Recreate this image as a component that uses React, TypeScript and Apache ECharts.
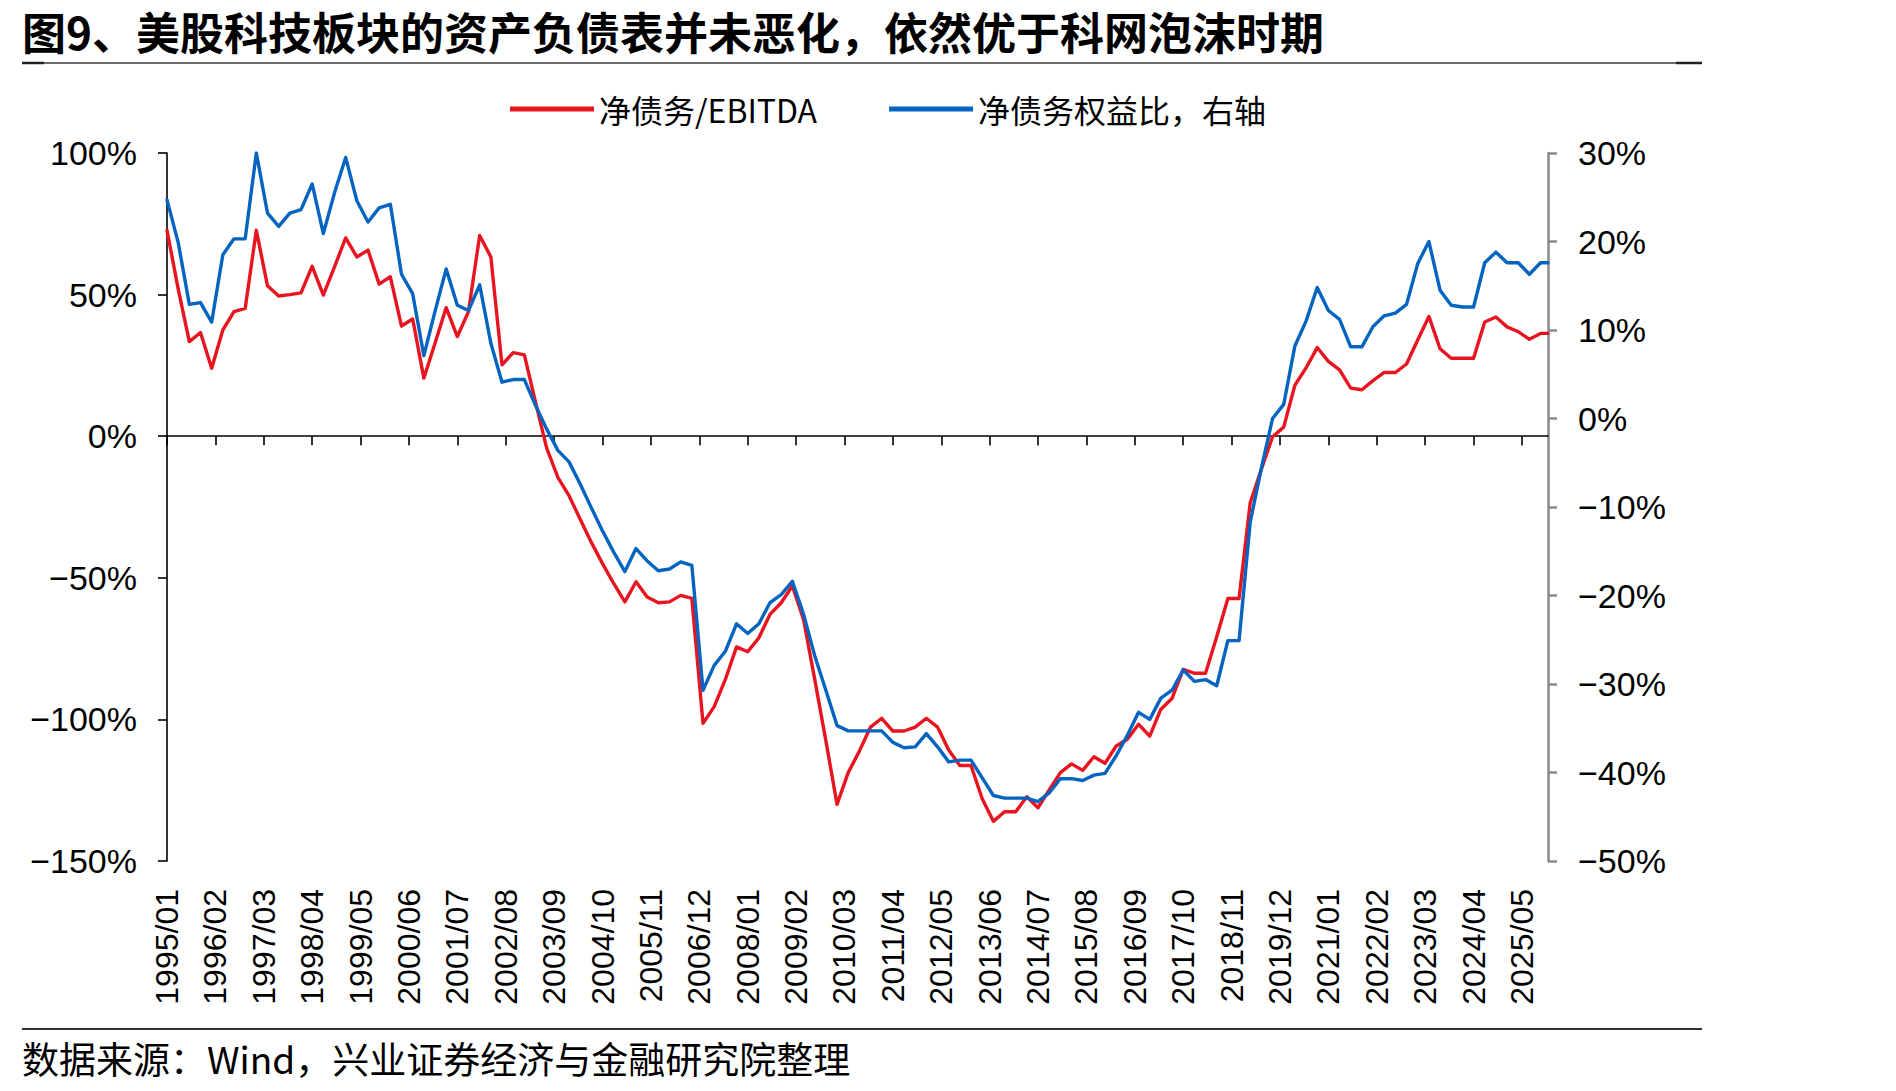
import React, { useEffect, useRef } from 'react';
import * as echarts from 'echarts';

const TITLE = '图9、美股科技板块的资产负债表并未恶化，依然优于科网泡沫时期';
const SOURCE = '数据来源：Wind，兴业证券经济与金融研究院整理';
const SERIES_NAMES = ['净债务/EBITDA', '净债务权益比，右轴'];

// monthly category axis 1995/01 .. 2025/12
const FIRST_YEAR = 1995;
const LAST_YEAR = 2025;
const monthLabels: string[] = [];
for (let y = FIRST_YEAR; y <= LAST_YEAR; y++) {
  for (let m = 1; m <= 12; m++) monthLabels.push(`${y}/${String(m).padStart(2, '0')}`);
}

// observation dates: quarterly 1995/01 .. 2025/10, plus latest 2025/12
const pointDates: string[] = [];
for (let i = 0; i <= 369; i += 3) pointDates.push(monthLabels[i]);
pointDates.push('2025/12');

// 净债务/EBITDA (%), left axis
const netDebtToEbitda = [
  72.7, 52, 33.4, 36.6, 24, 37.5, 44, 45.1, 72.7, 53.1,
  49.5, 50, 50.6, 60, 49.8, 59.8, 70, 63.3, 65.7, 53.7,
  56.3, 38.9, 41.4, 20.5, 32.8, 45.4, 35.2, 44, 70.9, 63.3,
  25.2, 29.5, 28.7, 12, -4.2, -14.5, -21, -29.3, -37.5, -45,
  -52, -58.5, -51.4, -56.8, -58.8, -58.5, -56.2, -57.3, -101.4, -95.5,
  -85.9, -74.4, -76.1, -71.2, -62.9, -58.8, -52.9, -64.7, -85.8, -107.5,
  -130, -118.8, -111.2, -102.7, -99.6, -104.1, -104.1, -102.7, -99.6, -102.7,
  -110.8, -116.3, -116.3, -128, -136, -132.6, -132.6, -127.3, -131.2, -124.9,
  -118.8, -115.7, -118, -113.2, -115.5, -109.4, -107, -101.7, -105.9, -96.4,
  -92.6, -82.3, -83.7, -83.7, -70.8, -57.3, -57.3, -23.5, -11.7, -0.2,
  3.2, 18, 24.1, 31.3, 26.4, 23.4, 17, 16.4, 19.6, 22.5,
  22.5, 25.5, 34, 42.3, 30.9, 27.5, 27.5, 27.5, 40.3, 42.1,
  38.6, 36.9, 34.2, 36.3, 36.3,
];

// 净债务权益比 (%), right axis
const netDebtToEquity = [
  24.7, 19.9, 12.9, 13.1, 10.9, 18.5, 20.3, 20.3, 30, 23.2,
  21.7, 23.2, 23.6, 26.5, 20.9, 25.5, 29.5, 24.6, 22.2, 23.8,
  24.2, 16.3, 14.1, 7.1, 12.1, 16.9, 12.8, 12.2, 15.1, 8.5,
  4.1, 4.4, 4.4, 1.5, -1.2, -3.6, -4.9, -7.4, -10.1, -12.7,
  -15.1, -17.3, -14.7, -16.1, -17.2, -17.0, -16.2, -16.6, -30.7, -27.9,
  -26.3, -23.2, -24.3, -23.2, -20.8, -19.9, -18.4, -22.1, -26.8, -30.7,
  -34.7, -35.3, -35.3, -35.3, -35.3, -36.6, -37.2, -37.1, -35.6, -37.1,
  -38.8, -38.6, -38.6, -40.6, -42.6, -42.9, -42.9, -42.9, -43.3, -42.3,
  -40.7, -40.7, -40.9, -40.3, -40.1, -38.1, -35.8, -33.2, -34.0, -31.6,
  -30.7, -28.4, -29.7, -29.5, -30.2, -25.1, -25.1, -11.7, -5.6, 0,
  1.6, 8.2, 11.0, 14.8, 12.2, 11.2, 8.1, 8.1, 10.4, 11.6,
  11.9, 12.9, 17.5, 20.0, 14.5, 12.8, 12.6, 12.6, 17.6, 18.8,
  17.6, 17.6, 16.3, 17.6, 17.6,
];

const LEFT_AXIS = { min: -150, max: 100, interval: 50 };
const RIGHT_AXIS = { min: -50, max: 30, interval: 10 };
const LABEL_EVERY = 13; // months between x labels

const RED = '#E8141F';
const BLUE = '#0564C0';
const FONT = '"Liberation Sans", "Noto Sans CJK SC", sans-serif';
const CJK = '"Noto Sans CJK SC", "Liberation Sans", sans-serif';

const toMonthly = (vals: number[]) => {
  const map = new Map<string, number>();
  pointDates.forEach((d, i) => map.set(d, vals[i]));
  return monthLabels.map((l) => (map.has(l) ? (map.get(l) as number) : null));
};

const pct = (v: number) => (v < 0 ? '\u2212' + Math.abs(v) : String(v)) + '%';

export default function App() {
  const ref = useRef<HTMLDivElement>(null);
  useEffect(() => {
    if (!ref.current) return;
    const chart = echarts.init(ref.current, undefined, { renderer: 'svg' });
    const option: any = {
      animation: false,
      backgroundColor: '#fff',
      textStyle: { fontFamily: FONT },
      grid: { left: 167, top: 153, width: 1381, height: 708, containLabel: false },
      legend: {
        left: 505,
        top: 88,
        icon: 'rect',
        itemWidth: 84,
        itemHeight: 5,
        itemGap: 72,
        data: SERIES_NAMES,
        textStyle: { fontSize: 32, color: '#000', fontFamily: CJK },
      },
      xAxis: [
        {
          type: 'category',
          data: monthLabels,
          boundaryGap: false,
          position: 'bottom',
          axisLine: { onZero: true, lineStyle: { color: '#000', width: 1.6 } },
          axisTick: { show: true, interval: LABEL_EVERY - 1, length: 9, lineStyle: { color: '#000', width: 1.6 } },
          axisLabel: { show: false },
          splitLine: { show: false },
        },
        {
          type: 'category',
          data: monthLabels,
          boundaryGap: false,
          position: 'bottom',
          axisLine: { show: false, onZero: false },
          axisTick: { show: false },
          axisLabel: {
            show: true,
            interval: LABEL_EVERY - 1,
            rotate: 90,
            margin: 28,
            fontSize: 32,
            color: '#000',
            fontFamily: FONT,
          },
          splitLine: { show: false },
        },
      ],
      yAxis: [
        {
          type: 'value',
          position: 'left',
          min: LEFT_AXIS.min,
          max: LEFT_AXIS.max,
          interval: LEFT_AXIS.interval,
          axisLine: { show: true, lineStyle: { color: '#000', width: 1.6 } },
          axisTick: { show: true, length: 9, lineStyle: { color: '#000', width: 1.6 } },
          axisLabel: { margin: 30, fontSize: 34, color: '#000', fontFamily: FONT, formatter: pct },
          splitLine: { show: false },
        },
        {
          type: 'value',
          position: 'right',
          min: RIGHT_AXIS.min,
          max: RIGHT_AXIS.max,
          interval: RIGHT_AXIS.interval,
          axisLine: { show: true, lineStyle: { color: '#8a8a8a', width: 2.5 } },
          axisTick: { show: true, length: 9, lineStyle: { color: '#8a8a8a', width: 2.5 } },
          axisLabel: { margin: 30, fontSize: 34, color: '#000', fontFamily: FONT, formatter: pct },
          splitLine: { show: false },
        },
      ],
      series: [
        {
          name: SERIES_NAMES[0],
          type: 'line',
          xAxisIndex: 0,
          yAxisIndex: 0,
          data: toMonthly(netDebtToEbitda),
          connectNulls: true,
          showSymbol: false,
          symbol: 'none',
          lineStyle: { color: RED, width: 3.4, join: 'round', cap: 'round' },
          itemStyle: { color: RED },
        },
        {
          name: SERIES_NAMES[1],
          type: 'line',
          xAxisIndex: 0,
          yAxisIndex: 1,
          data: toMonthly(netDebtToEquity),
          connectNulls: true,
          showSymbol: false,
          symbol: 'none',
          lineStyle: { color: BLUE, width: 3.4, join: 'round', cap: 'round' },
          itemStyle: { color: BLUE },
        },
      ],
      graphic: [
        {
          type: 'text',
          x: 22,
          y: 9,
          style: {
            text: TITLE,
            font: `bold 44px ${CJK}`,
            lineHeight: 44,
            fill: '#000',
            verticalAlign: 'top',
            align: 'left',
          },
        },
        { type: 'line', shape: { x1: 22, y1: 63, x2: 1702, y2: 63 }, style: { stroke: '#6a6a6a', lineWidth: 2 } },
        { type: 'line', shape: { x1: 22, y1: 63, x2: 44, y2: 63 }, style: { stroke: '#222', lineWidth: 2.5 } },
        { type: 'line', shape: { x1: 1676, y1: 63, x2: 1702, y2: 63 }, style: { stroke: '#222', lineWidth: 2.5 } },
        { type: 'line', shape: { x1: 22, y1: 1029, x2: 1702, y2: 1029 }, style: { stroke: '#333', lineWidth: 2 } },
        {
          type: 'text',
          x: 22,
          y: 1058,
          style: { text: SOURCE, font: `37px ${CJK}`, fill: '#000', verticalAlign: 'middle', align: 'left' },
        },
      ],
    };
    chart.setOption(option);
    return () => chart.dispose();
  }, []);
  return (
    <div
      ref={ref}
      style={{ position: 'fixed', left: 0, top: 0, width: 1896, height: 1091, background: '#fff' }}
    />
  );
}
